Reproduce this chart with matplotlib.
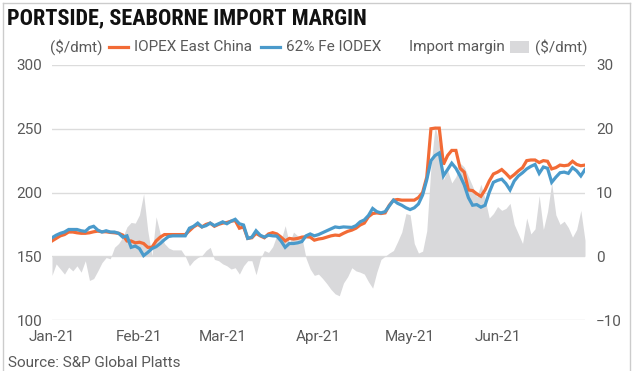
import matplotlib
matplotlib.use("Agg")
import matplotlib.pyplot as plt
import numpy as np
import pandas as pd
from matplotlib.lines import Line2D
from matplotlib.patches import Rectangle

# trading days, Jan-Jun 2021
dates = pd.bdate_range("2021-01-01", "2021-06-30")

iopex_east_china = [
    162, 164, 166, 167, 169, 169, 168.4, 168, 168, 168.4,
    169.2, 169.7, 169.2, 169.2, 168.7, 168.4, 168, 166.6, 162, 162,
    160.5, 161, 160, 157, 157, 162, 165, 167, 167, 167,
    167, 167, 167, 170, 173, 175, 173, 175, 176, 173.5,
    175, 176, 176.5, 177.5, 178, 172, 173, 164, 164.5, 168,
    166, 164.5, 167.5, 168.5, 167.5, 165, 162, 164, 163.5, 164,
    165, 165.3, 165, 162.6, 163.5, 164, 165, 166, 166.6, 166.3,
    168, 169.5, 170.5, 172, 174.5, 176, 181, 183.5, 184, 183.5,
    184, 190, 194, 194.5, 194, 194, 194, 194, 196, 200,
    212, 250, 250.5, 250.5, 222, 229, 233, 233, 219, 216,
    202, 201.5, 199, 197, 202, 209, 214.5, 216, 218, 215,
    211.5, 214, 217, 219.5, 225, 225.5, 225.5, 223.5, 225, 224.5,
    218.5, 219.5, 221.5, 221, 221.5, 224.5, 222, 221, 221.5,
]

iodex_62 = [
    164.5, 166.5, 168, 169, 171, 171, 171, 170, 169.5, 172.5,
    173.5, 170.5, 169, 170, 169, 169, 168, 165, 166, 157,
    158, 156, 150.5, 153, 156, 157.5, 160, 163, 165.5, 166,
    166, 166, 166, 172, 173.5, 176, 173, 174, 176, 174,
    175.5, 177, 175.5, 177.5, 179, 175.5, 174.5, 164, 165, 170,
    166.5, 165, 166.5, 166, 165.8, 162, 157, 160, 160, 160.5,
    161.5, 166, 167.5, 166, 167, 168.5, 170, 171.5, 173, 172.5,
    173, 172.8, 172.6, 174, 177, 178.5, 182, 187.5, 185, 184,
    185, 189.5, 194, 191.5, 190, 188, 186.6, 188, 191, 198,
    210, 225, 229, 231, 213, 218, 223, 219, 213, 206,
    196, 190, 190.5, 188.5, 190, 200, 208, 209.5, 210.5, 207,
    202, 209, 213, 215.5, 218.5, 220.5, 222, 215, 220, 219,
    208, 212, 215.5, 216, 215, 219.5, 217, 213, 218,
]

import_margin = [
    -3, -1.2, -2, -2.8, -1.7, -2.3, -1.5, -2.5, -0.7, -3.8,
    -3.5, -2.3, -1, -0.2, -0.4, 1.4, 2, 3, 4.6, 5.3,
    5.2, 6.5, 9.8, 4, 0.1, 6.2, 3.5, 2, 1.3, 1,
    1, 1, 0, -1.5, -0.7, -0.2, 0.1, 0.9, 1.4, -0.5,
    -0.7, -1.2, -1.5, -2, -1.8, -2.8, -1.5, -0.7, -0.7, -2.9,
    -0.4, 0.9, 0.6, 1.5, 3.3, 2.5, 4.8, 2, 3.8, 3.2,
    3, -0.3, -2, -3, -2.8, -3.5, -4.3, -5.2, -5.9, -6.2,
    -4.2, -3.2, -1.8, -2.3, -2.5, -2.8, -4, -5, -2.5, -0.5,
    0, 0.5, 0.9, 2.3, 3.8, 6.7, 6.5, 2, 0.5, 0.8,
    4, 14, 20.5, 17.5, 12, 13.5, 11.5, 12.5, 14.6, 14,
    12.5, 11, 9.3, 11.3, 9, 6, 6.7, 7.8, 7.2, 7.5,
    8.3, 5, 3.5, 2, 6, 3.5, 4.3, 9.5, 4.2, 7,
    11.5, 6.5, 5, 5.5, 4.5, 3, 4.2, 7.2, 2.5,
]

left_ticks = [100, 150, 200, 250, 300]
right_ticks = [-10, 0, 10, 20, 30]

ORANGE = "#f26b36"
BLUE = "#4a9acb"
FILL = "#d9d9db"
GRID = "#dcdcdc"
TXT = "#595959"

plt.rcParams["font.family"] = ["Roboto", "DejaVu Sans"]

W, H = 633, 371
fig = plt.figure(figsize=(W / 100, H / 100), dpi=100)
ax = fig.add_axes([52 / W, 1 - 320 / H, 533 / W, 255 / H])
ax2 = ax.twinx()

idx = np.arange(len(dates))

# margin area on the right axis, behind the price lines
ax2.fill_between(idx, 0, import_margin, color=FILL, lw=0)
ax2.set_ylim(-10, 30)
ax2.set_yticks(right_ticks)
ax2.yaxis.grid(True, color=GRID, lw=1)
ax2.set_axisbelow(True)

ax.plot(idx, iopex_east_china, color=ORANGE, lw=2.3, solid_joinstyle="miter")
ax.plot(idx, iodex_62, color=BLUE, lw=2.3, solid_joinstyle="miter")
ax.set_zorder(ax2.get_zorder() + 1)
ax.patch.set_visible(False)
ax.set_ylim(100, 300)
ax.set_yticks(left_ticks)
ax.set_xlim(idx[0], idx[-1])

month_pos = [i for i in idx if i == 0 or dates[i].month != dates[i - 1].month]
ax.set_xticks(month_pos)
ax.set_xticklabels([dates[i].strftime("%b-%y") for i in month_pos])

for a in (ax, ax2):
    for s in a.spines.values():
        s.set_visible(False)
ax.tick_params(axis="both", length=0, labelsize=11, labelcolor=TXT)
ax.tick_params(axis="y", pad=7)
ax.tick_params(axis="x", pad=7)
ax2.tick_params(axis="y", length=0, labelsize=11, labelcolor=TXT, pad=8)

# title and source
fig.text(7 / W, 1 - 18 / H, "PORTSIDE, SEABORNE IMPORT MARGIN", va="center",
         fontsize=16, fontweight="bold", color="#111111",
         family=["Roboto Condensed", "Roboto", "DejaVu Sans"])
fig.text(8 / W, 1 - 363 / H, "Source: S&P Global Platts", va="center",
         fontsize=11, color=TXT)

# legend row
fig.canvas.draw()
r = fig.canvas.get_renderer()
yl = 1 - 47 / H


def label(x, s, ha="left"):
    t = fig.text(x / W, yl, s, va="center", ha=ha, fontsize=11, color=TXT)
    return t.get_window_extent(r)


def swatch(x, color):
    fig.add_artist(Line2D([x / W, (x + 19) / W], [yl, yl], color=color, lw=2.3,
                          transform=fig.transFigure))
    return x + 19


bb = label(50, "($/dmt)")
x = swatch(bb.x1 + 6, ORANGE)
bb = label(x + 6, "IOPEX East China")
x = swatch(bb.x1 + 9, BLUE)
label(x + 6, "62% Fe IODEX")

bb = label(587, "($/dmt)", ha="right")
sq_x = bb.x0 - 6 - 19
fig.add_artist(Rectangle((sq_x / W, yl - 6 / H), 19 / W, 12 / H, color=FILL,
                         transform=fig.transFigure, lw=0))
label(sq_x - 5, "Import margin", ha="right")

# frame around the graphic (no bottom edge)
for xs, ys in (([2.5, 2.5], [0, H - 2.5]), ([2.5, 629.5], [H - 2.5, H - 2.5]),
               ([629.5, 629.5], [H - 2.5, 0])):
    fig.add_artist(Line2D([v / W for v in xs], [v / H for v in ys],
                          color="#cccccc", lw=1, transform=fig.transFigure))

fig.savefig("out.png", dpi=100)
